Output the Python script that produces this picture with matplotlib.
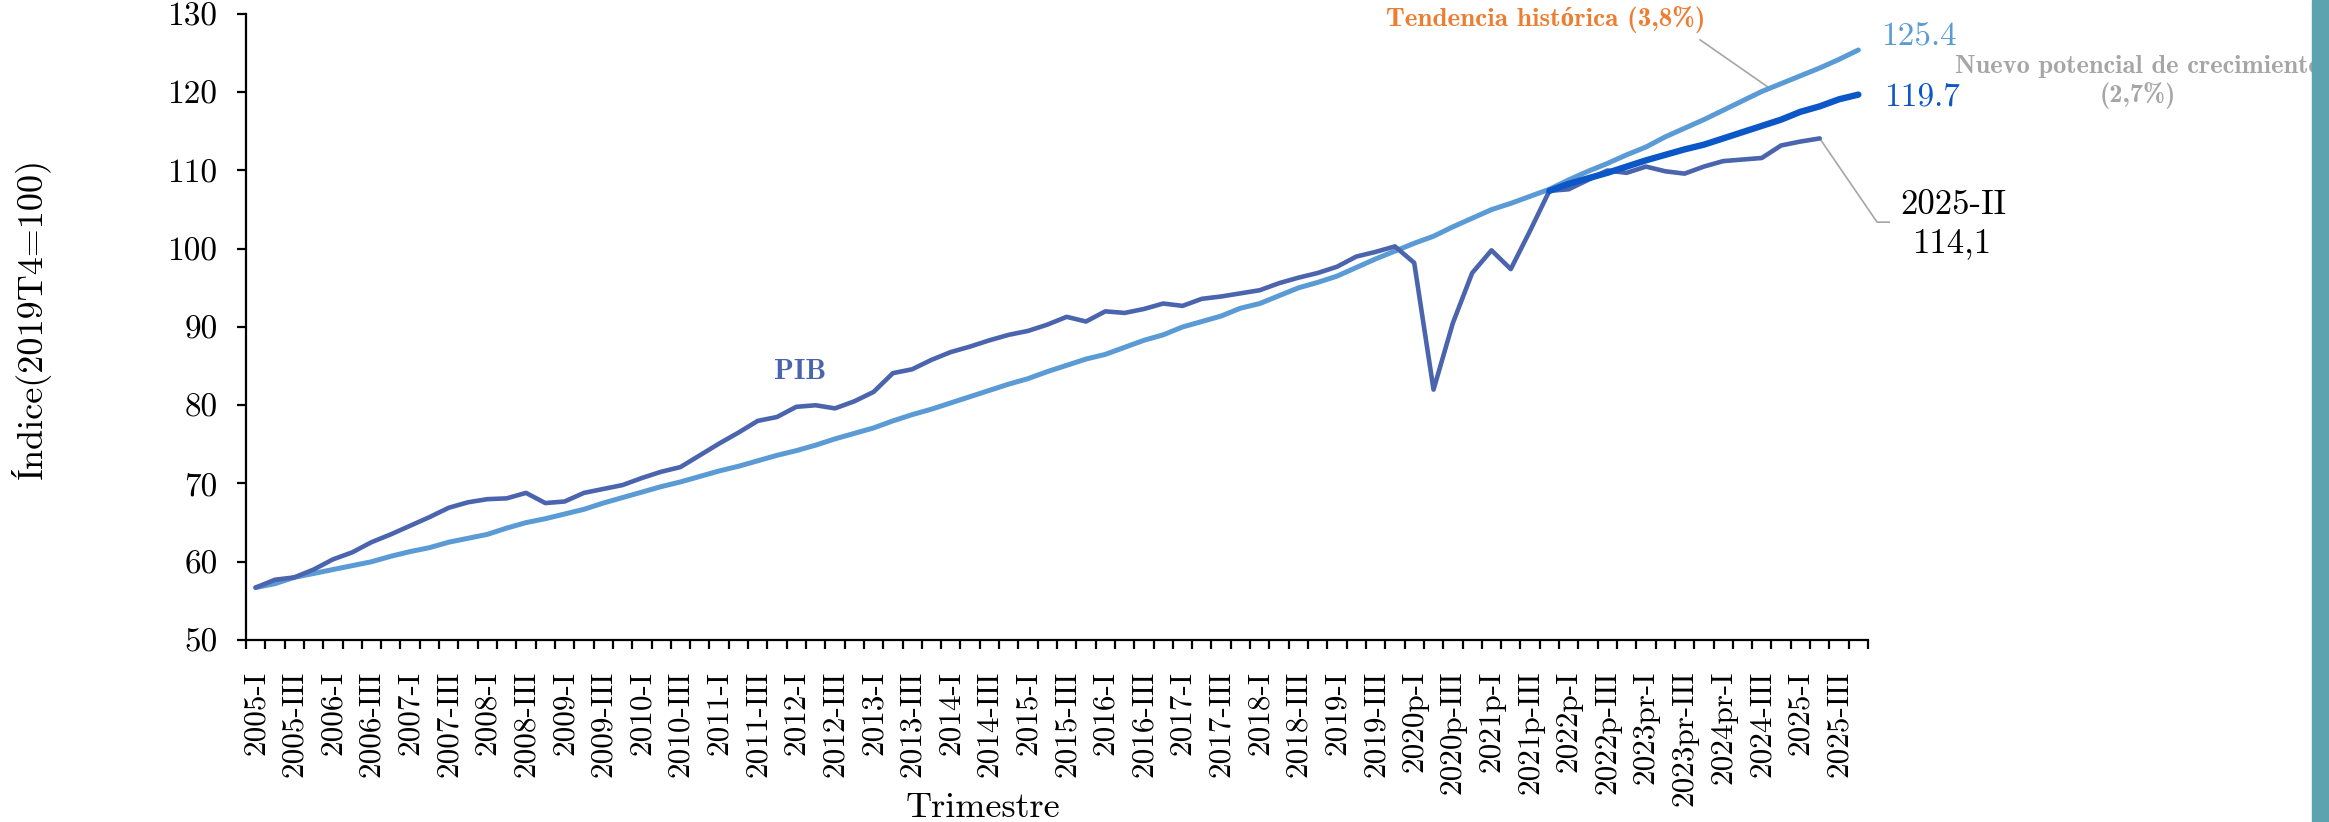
import numpy as np
import matplotlib
matplotlib.use("Agg")
import matplotlib.pyplot as plt
from matplotlib.patches import Rectangle

# ---------------- data ----------------
years = list(range(2005, 2026))
roman = ["I", "II", "III", "IV"]
trimestres = [f"{y}-{r}" for y in years for r in roman]  # 84 quarters

tick_labels = ["2005-I", "2005-III", "2006-I", "2006-III", "2007-I", "2007-III",
               "2008-I", "2008-III", "2009-I", "2009-III", "2010-I", "2010-III",
               "2011-I", "2011-III", "2012-I", "2012-III", "2013-I", "2013-III",
               "2014-I", "2014-III", "2015-I", "2015-III", "2016-I", "2016-III",
               "2017-I", "2017-III", "2018-I", "2018-III", "2019-I", "2019-III",
               "2020p-I", "2020p-III", "2021p-I", "2021p-III", "2022p-I", "2022p-III",
               "2023pr-I", "2023pr-III", "2024pr-I", "2024-III", "2025-I", "2025-III"]

pib = [56.7, 57.7, 58.0, 59.0, 60.3, 61.2, 62.5, 63.5, 64.6, 65.7,
       66.9, 67.6, 68.0, 68.1, 68.8, 67.5, 67.7, 68.8, 69.3, 69.8,
       70.7, 71.5, 72.1, 73.6, 75.1, 76.5, 78.0, 78.5, 79.8, 80.0,
       79.6, 80.5, 81.7, 84.1, 84.6, 85.8, 86.8, 87.5, 88.3, 89.0,
       89.5, 90.3, 91.3, 90.7, 92.0, 91.8, 92.3, 93.0, 92.7, 93.6,
       93.9, 94.3, 94.7, 95.6, 96.3, 96.9, 97.7, 99.0, 99.6, 100.3,
       98.2, 82.0, 90.5, 96.9, 99.8, 97.4, 102.3, 107.4, 107.6, 108.8,
       110.0, 109.7, 110.5, 109.9, 109.6, 110.5, 111.2, 111.4, 111.6, 113.2,
       113.7, 114.1]

tendencia = [56.7, 57.2, 58.0, 58.5, 59.0, 59.5, 60.0, 60.7, 61.3, 61.8,
             62.5, 63.0, 63.5, 64.3, 65.0, 65.5, 66.1, 66.7, 67.5, 68.2,
             68.9, 69.6, 70.2, 70.9, 71.6, 72.2, 72.9, 73.6, 74.2, 74.9,
             75.7, 76.4, 77.1, 78.0, 78.8, 79.5, 80.3, 81.1, 81.9, 82.7,
             83.4, 84.3, 85.1, 85.9, 86.5, 87.4, 88.3, 89.0, 90.0, 90.7,
             91.4, 92.4, 93.0, 94.0, 95.0, 95.7, 96.5, 97.6, 98.7, 99.7,
             100.7, 101.6, 102.8, 103.9, 105.0, 105.8, 106.7, 107.6, 108.8, 109.9,
             110.9, 112.0, 113.0, 114.3, 115.4, 116.5, 117.7, 118.9, 120.1, 121.1,
             122.1, 123.1, 124.2, 125.4]

potencial_inicio = "2021-IV"
potencial = [107.4, 108.3, 109.0, 109.7, 110.5, 111.3, 112.0, 112.7, 113.3,
             114.1, 114.9, 115.7, 116.5, 117.5, 118.2, 119.1, 119.7]

# ---------------- style ----------------
W, H = 2329, 822
C_PIB = "#4A65AE"
C_TEND = "#5B9BD5"
C_POT = "#0C57C8"
C_GRAY = "#A6A6A6"
C_ORANGE = "#ED7D31"
C_TEAL = "#5DA3AF"
RM = ["cmr10", "Liberation Serif", "DejaVu Serif"]
BF = ["cmb10", "Liberation Serif", "DejaVu Serif"]
plt.rcParams["axes.formatter.use_mathtext"] = True


def fx(px):
    return px / W


def fy(py):
    return 1 - py / H


fig = plt.figure(figsize=(W / 100, H / 100), dpi=100)
ax = fig.add_axes([fx(246), fy(640), fx(1868) - fx(246), fy(14) - fy(640)])

x_all = np.arange(len(trimestres))
x_pib = x_all[:len(pib)]
i0 = trimestres.index(potencial_inicio)
x_pot = x_all[i0:i0 + len(potencial)]

ax.plot(x_all, tendencia, color=C_TEND, lw=3.6, solid_capstyle="round",
        solid_joinstyle="round", zorder=2)
ax.plot(x_pib, pib, color=C_PIB, lw=3.3, solid_capstyle="round",
        solid_joinstyle="round", zorder=3)
ax.plot(x_pot, potencial, color=C_POT, lw=4.6, solid_capstyle="round",
        solid_joinstyle="round", zorder=4)

ax.set_xlim(-0.5, len(trimestres) - 0.5)
ax.set_ylim(50, 130)

for s in ["top", "right"]:
    ax.spines[s].set_visible(False)
for s in ["left", "bottom"]:
    ax.spines[s].set_linewidth(1.6)
    ax.spines[s].set_color("black")

yt = list(range(50, 131, 10))
ax.set_yticks(yt)
ax.set_yticklabels([str(v) for v in yt], fontfamily=RM, fontsize=24)
ax.tick_params(axis="y", direction="out", length=6.5, width=1.6, pad=14)

ax.set_xticks(np.arange(0, len(trimestres), 2))
ax.set_xticklabels(tick_labels, rotation=90, fontfamily=RM, fontsize=22.5)
ax.set_xticks(np.arange(-0.5, len(trimestres), 1), minor=True)
ax.tick_params(axis="x", which="major", length=0, pad=22)
ax.tick_params(axis="x", which="minor", direction="out", length=6.5, width=1.6)

# axis titles
fig.text(fx(31), fy(318), "Índice(2019T4=100)", rotation=90, ha="center",
         va="center", fontfamily=RM, fontsize=26)
fig.text(fx(983), fy(817), "Trimestre", ha="center", va="baseline",
         fontfamily=RM, fontsize=26)

# annotations
fig.text(fx(800), fy(372), "PIB", ha="center", va="center", color=C_PIB,
         fontfamily=BF, fontweight="bold", fontsize=21)
fig.text(fx(1546), fy(20), "Tendencia histórica (3,8%)", ha="center", va="center",
         color=C_ORANGE, fontfamily=BF, fontweight="bold", fontsize=19.5)
fig.text(fx(1881), fy(37), f"{tendencia[-1]:.1f}", ha="left", va="center",
         color=C_TEND, fontfamily=RM, fontsize=24)
fig.text(fx(1884), fy(97), f"{potencial[-1]:.1f}", ha="left", va="center",
         color=C_POT, fontfamily=RM, fontsize=24)
fig.text(fx(2138), fy(67), "Nuevo potencial de crecimiento", ha="center",
         va="center", color=C_GRAY, fontfamily=BF, fontweight="bold", fontsize=19)
fig.text(fx(2138), fy(96), "(2,7%)", ha="center", va="center", color=C_GRAY,
         fontfamily=BF, fontweight="bold", fontsize=19)
fig.text(fx(1953), fy(205), trimestres[len(pib) - 1], ha="center", va="center",
         color="black", fontfamily=RM, fontsize=25)
fig.text(fx(1953), fy(243), f"{pib[-1]:.1f}".replace(".", ","), ha="center",
         va="center", color="black", fontfamily=RM, fontsize=25)

# leader lines (annotation guides)
ax.plot([74.8, 78.3], [126.7, 120.7], color=C_GRAY, lw=1.2, zorder=1,
        clip_on=False)
ax.plot([x_pib[-1], 83.97, 84.6], [pib[-1], 103.4, 103.4], color=C_GRAY,
        lw=1.2, zorder=1, clip_on=False)

# teal band at the right edge
fig.patches.append(Rectangle((fx(2312), 0), 1 - fx(2312), 1,
                             transform=fig.transFigure, color=C_TEAL,
                             zorder=10))

fig.savefig("out.png", dpi=100)
